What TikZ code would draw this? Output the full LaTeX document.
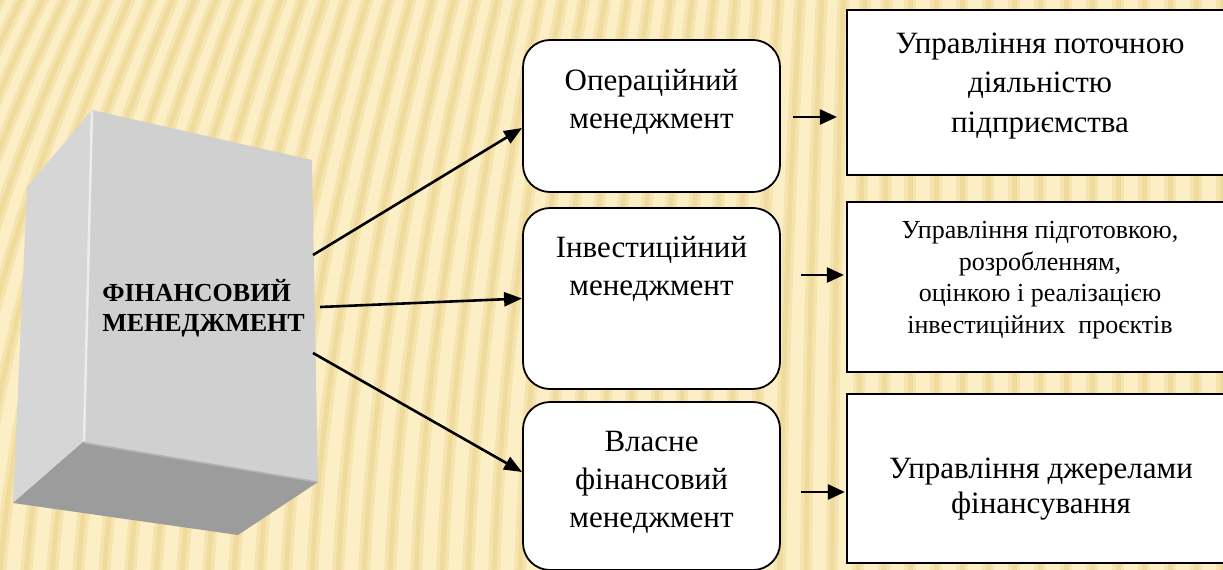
\documentclass[tikz,border=0pt]{standalone}
\usepackage{fontspec}
\setmainfont{Liberation Serif}
\newfontfamily\tnr{Liberation Serif}
\usetikzlibrary{arrows.meta,calc}
\definecolor{bgbase}{RGB}{252,239,197}
\definecolor{bgstripe}{RGB}{234,210,135}
\definecolor{frontface}{RGB}{208,208,208}
\definecolor{sideface}{RGB}{214,214,214}
\definecolor{bottomface}{RGB}{156,156,156}
\definecolor{edgelight}{RGB}{236,236,236}
\begin{document}
\begin{tikzpicture}[x=1pt,y=-1pt,
  midbox/.style={draw=black, line width=1.8pt, fill=white, rounded corners=27pt, inner sep=0pt},
  rightbox/.style={draw=black, line width=2.2pt, fill=white, inner sep=0pt},
  bigtext/.style={font=\tnr\fontsize{31}{38}\selectfont, align=center, inner sep=0pt},
  smalltext/.style={font=\tnr\fontsize{26}{31.5}\selectfont, align=center, inner sep=0pt},
  conn/.style={line width=2.6pt, -{Triangle[length=18pt,width=14pt]}},
  sconn/.style={line width=2.6pt, -{Triangle[length=17pt,width=15pt]}},
  stripewide/.style={bgstripe, line width=12pt, opacity=0.35},
  stripenarrow/.style={bgstripe, line width=5pt, opacity=0.45},
]
\useasboundingbox (0,0) rectangle (1223,570);
% background
\begin{scope}
\clip (0,0) rectangle (1223,570);
\fill[bgbase] (0,0) rectangle (1223,570);
\foreach \i in {-12,...,48} {
  \pgfmathsetmacro{\xb}{\i*26}
  \pgfmathsetmacro{\sh}{max(0,0.17*(900-\xb))}
  \draw[stripewide] (\xb,575) .. controls ({\xb+0.1*\sh},380) and ({\xb+0.45*\sh},190) .. ({\xb+\sh},-5);
  \draw[stripenarrow] (\xb,575) .. controls ({\xb+0.1*\sh},380) and ({\xb+0.45*\sh},190) .. ({\xb+\sh},-5);
}
\end{scope}
% 3D box
\fill[sideface] (92,110) -- (27,187) -- (13,503) -- (83,442) -- cycle;
\fill[frontface] (92,110) -- (312,160) -- (318,482) -- (83,442) -- cycle;
\fill[bottomface] (83,442) -- (318,482) -- (238,535) -- (13,503) -- cycle;
\draw[edgelight, line width=2.5pt] (92,111) -- (84,441);
\draw[gray!60, line width=1.5pt] (84,443) -- (317,482);
\node[font=\tnr\fontsize{26}{30}\selectfont\bfseries, align=left, inner sep=0pt] (fm) at (203.5,308) {ФІНАНСОВИЙ\\МЕНЕДЖМЕНТ};
\coordinate (s1) at (313,255);
\coordinate (s2) at (320,307);
\coordinate (s3) at (313,353);
% middle boxes
\node[midbox, minimum width=257pt, minimum height=152pt] (m1) at (651.5,116) {};
\node[midbox, minimum width=257pt, minimum height=181pt] (m2) at (651.5,298.5) {};
\node[midbox, minimum width=257pt, minimum height=168pt] (m3) at (651.5,486) {};
\node[bigtext] (m1t) at (651.5,102) {Операційний\\менеджмент};
\node[bigtext] (m2t) at (651.5,269) {Інвестиційний\\менеджмент};
\node[bigtext] (m3t) at (651.5,482) {Власне\\фінансовий\\менеджмент};
% right boxes
\node[rightbox, minimum width=388pt, minimum height=165pt] (r1) at (1041,92.5) {};
\node[rightbox, minimum width=388pt, minimum height=170pt] (r2) at (1041,287) {};
\node[rightbox, minimum width=388pt, minimum height=169pt] (r3) at (1041,478.5) {};
\node[bigtext, font=\tnr\fontsize{31}{39.5}\selectfont] (r1t) at (1040,86) {Управління поточною\\діяльністю\\підприємства};
\node[smalltext] (r2t) at (1040,280) {Управління підготовкою,\\розробленням,\\оцінкою і реалізацією\\інвестиційних\ \ проєктів};
\node[bigtext, font=\tnr\fontsize{31}{35}\selectfont] (r3t) at (1041,489) {Управління джерелами\\фінансування};
% connectors
\draw[conn] (s1) -- ($(m1.west)+(0,12)$);
\draw[conn] (s2) -- (m2.west);
\draw[conn] (s3) -- ($(m3.west)+(0,-14)$);
\draw[sconn] ($(m1.east)+(12,1)$) -- ($(m1.east -| r1.west)+(-9,1)$);
\draw[sconn] ($(m2.east)+(20,-23.5)$) -- ($(m2.east -| r2.west)+(-2,-23.5)$);
\draw[sconn] ($(m3.east)+(20,6)$) -- ($(m3.east -| r3.west)+(-1,6)$);
\end{tikzpicture}
\end{document}
